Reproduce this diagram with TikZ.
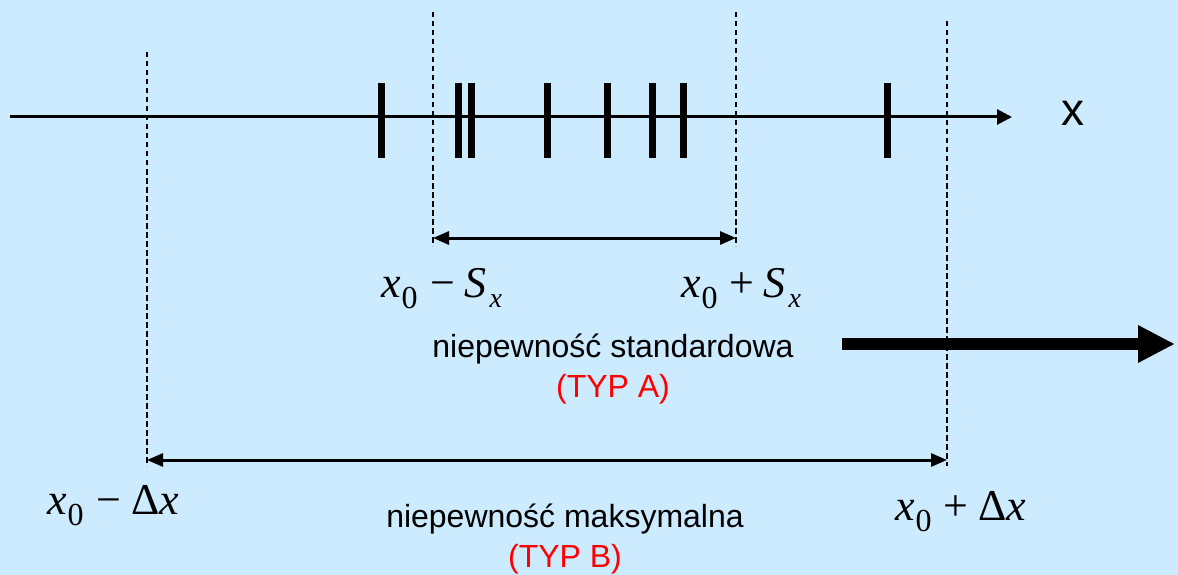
\documentclass[tikz,border=0pt]{standalone}
\usepackage{fontspec}
\setmainfont{Liberation Sans}
\newfontfamily\tnr{Liberation Serif}
\usetikzlibrary{arrows.meta}
\definecolor{bgblue}{RGB}{204,235,255}
\definecolor{typred}{RGB}{255,0,0}

% x_0 and the index x, set like an equation in a Times-like face
\newcommand{\xzero}{{\itshape x}\kern1pt\raisebox{-11pt}{\fontsize{32}{32}\selectfont 0}}
\newcommand{\subx}{\raisebox{-10pt}{\fontsize{28}{28}\selectfont\itshape x}}

\tikzset{
  axisline/.style={line width=3pt},
  tickmark/.style={line width=7pt},
  guide/.style={line width=2.3pt, dash pattern=on 5.5pt off 3.5pt},
  span/.style={line width=3pt, {Triangle[length=16pt,width=13pt]}-{Triangle[length=16pt,width=13pt]}},
  mathlab/.style={inner sep=0pt, anchor=base west, font=\tnr\fontsize{44}{48}\selectfont},
  words/.style={inner sep=0pt, anchor=base, font=\fontsize{32}{36}\selectfont},
  typlab/.style={words, text=typred},
}

\begin{document}
\begin{tikzpicture}[x=1pt,y=-1pt]
  \fill[bgblue] (0,0) rectangle (1178,575);
  \useasboundingbox (0,0) rectangle (1178,575);

  % measurement axis
  \coordinate (axL) at (10,117);
  \coordinate (axR) at (1012,117);
  \draw[axisline, -{Triangle[length=15pt,width=15pt]}] (axL) -- (axR);
  \node[inner sep=0pt, font=\fontsize{46}{50}\selectfont] (xlab) at (1073,113) {x};

  % individual measurements
  \foreach \p in {381,458,471,547,607,652,683,887}
    \draw[tickmark] (\p,83) -- (\p,158);

  % guide lines
  \coordinate (gAt) at (433,12);  \coordinate (gAb) at (433,246);
  \coordinate (gBt) at (736,12);  \coordinate (gBb) at (736,246);
  \coordinate (gCt) at (147,52);  \coordinate (gCb) at (147,466);
  \coordinate (gDt) at (947,21);  \coordinate (gDb) at (947,466);
  \draw[guide] (gAt) -- (gAb);
  \draw[guide] (gBt) -- (gBb);
  \draw[guide] (gCt) -- (gCb);
  \draw[guide] (gDt) -- (gDb);

  % spans
  \coordinate (sA) at (433,238);  \coordinate (sB) at (736,238);
  \coordinate (sC) at (147,460);  \coordinate (sD) at (947,460);
  \draw[span] (sA) -- (sB);
  \draw[span] (sC) -- (sD);

  % interval limits
  \node[mathlab] (lSm) at (381,297) {\xzero\kern13pt−\kern9pt{\itshape S}\kern3pt\subx};
  \node[mathlab] (lSp) at (681,297) {\xzero\kern12pt+\kern9pt{\itshape S}\kern3pt\subx};
  \node[mathlab] (lDm) at (47,514) {\xzero\kern13pt−\kern10ptΔ{\itshape x}};
  \node[mathlab] (lDp) at (895,520) {\xzero\kern12pt+\kern10ptΔ{\itshape x}};

  % descriptions
  \node[words] (stdA) at (613,357) {niepewność standardowa};
  \node[typlab] (typA) at (613,397) {(TYP A)};
  \node[words] (maxB) at (565,527) {niepewność maksymalna};
  \node[typlab] (typB) at (565,567) {(TYP B)};

  % thick arrow
  \coordinate (bigL) at (842,344);
  \coordinate (bigR) at (1175,344);
  \draw[line width=12pt, -{Triangle[length=37pt,width=35pt]}] (bigL) -- (bigR);
\end{tikzpicture}
\end{document}
